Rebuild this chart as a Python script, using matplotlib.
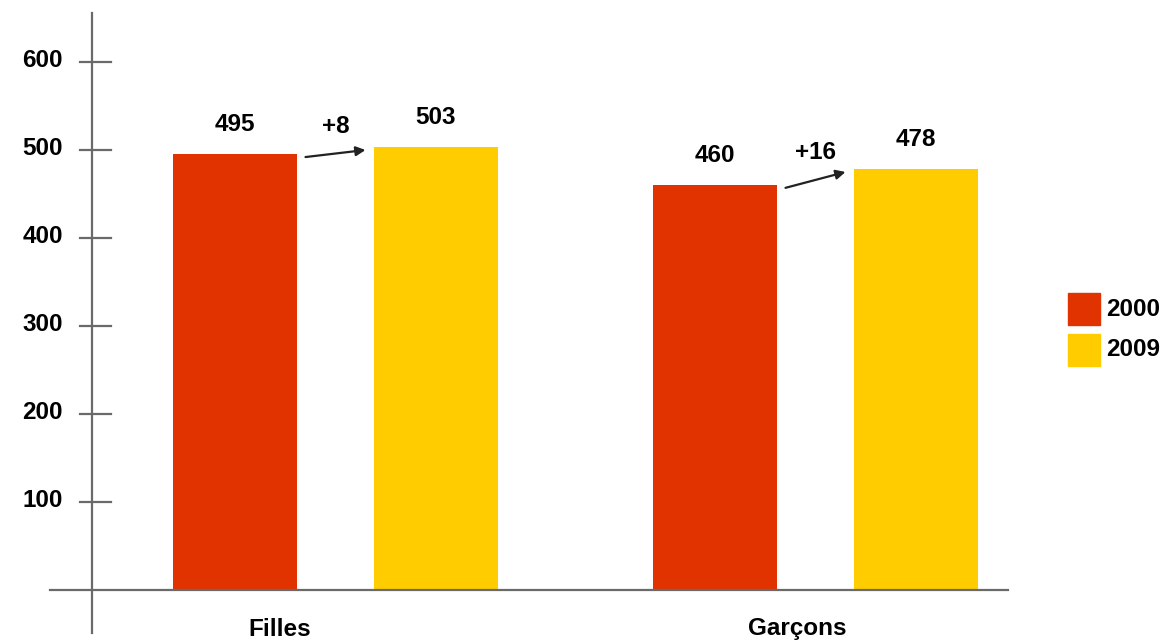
import numpy as np
import matplotlib.pyplot as plt
from matplotlib.patches import Rectangle
import matplotlib.transforms as mtransforms

# ---------------- data ----------------
categories = ["Filles", "Garçons"]
years = ["2000", "2009"]
values_2000 = [495, 460]
values_2009 = [503, 478]
gains = ["+8", "+16"]
yticks = [100, 200, 300, 400, 500, 600]

RED = "#E03300"
YELLOW = "#FFCC00"
AXIS = "#6a6a6a"
FS = 17.5

W, H = 1165, 642
fig = plt.figure(figsize=(W / 100, H / 100), dpi=100)
ax = fig.add_axes([0, 0, 1, 1])
ax.set_axis_off()

# pixel layout: 88 px per 100 points, zero at y=590 px; groups 480 px apart
px_per_unit = 0.88
ax.set_ylim(-(H - 590) / px_per_unit, 590 / px_per_unit)
group_px = 480.0
x0 = 335.5
ax.set_xlim(-x0 / group_px, (W - x0) / group_px)

def fx(px):
    return px / W

def fy(py):
    return 1 - py / H

font = dict(family=["Liberation Sans", "DejaVu Sans"], fontweight="bold")

x = np.arange(len(categories))
off = 100.5 / group_px
bw = 124 / group_px
ax.bar(x - off, values_2000, width=bw, color=RED, zorder=2)
ax.bar(x + off, values_2009, width=bw, color=YELLOW, zorder=2)

# axes lines
blend = mtransforms.blended_transform_factory(ax.transAxes, ax.transData)
ax.plot([fx(92), fx(92)], [fy(13), fy(633)], color=AXIS, lw=1.6,
        transform=ax.transAxes, zorder=3)
ax.plot([fx(50), fx(1008)], [0, 0], color=AXIS, lw=1.6, transform=blend, zorder=3)
for t in yticks:
    ax.plot([fx(80), fx(111)], [t, t], color=AXIS, lw=1.6, transform=blend, zorder=3)
    ax.text(fx(63), t + 2, str(t), transform=blend, ha="right", va="center",
            fontsize=FS, **font)

# value labels
for i in range(len(categories)):
    ax.text(x[i] - off, values_2000[i] + 34, str(values_2000[i]), ha="center",
            va="center", fontsize=FS, **font)
    ax.text(x[i] + off, values_2009[i] + 34, str(values_2009[i]), ha="center",
            va="center", fontsize=FS, **font)
    ax.annotate("", xy=(x[i] + 30 / group_px, values_2009[i] - 3),
                xytext=(x[i] - 30 / group_px, values_2000[i] - 3),
                arrowprops=dict(arrowstyle="-|>", color="#222222", lw=1.6,
                                mutation_scale=14, shrinkA=0, shrinkB=0))
    ax.text(x[i], (values_2000[i] + values_2009[i]) / 2 + 28, gains[i],
            ha="center", va="center", fontsize=FS, **font)

# category labels
cat_px = [280, 797]
for c, p in zip(categories, cat_px):
    ax.text(fx(p), fy(629), c, transform=ax.transAxes, ha="center", va="center",
            fontsize=FS, **font)

# legend
for yy, col, lab in [(293, RED, years[0]), (334, YELLOW, years[1])]:
    ax.add_patch(Rectangle((fx(1068), fy(yy + 32)), fx(32), 32 / H,
                           transform=ax.transAxes, color=col, zorder=3))
    ax.text(fx(1106), fy(yy + 16), lab, transform=ax.transAxes, ha="left",
            va="center", fontsize=FS, **font)

fig.savefig("out.png", dpi=100, facecolor="white")
